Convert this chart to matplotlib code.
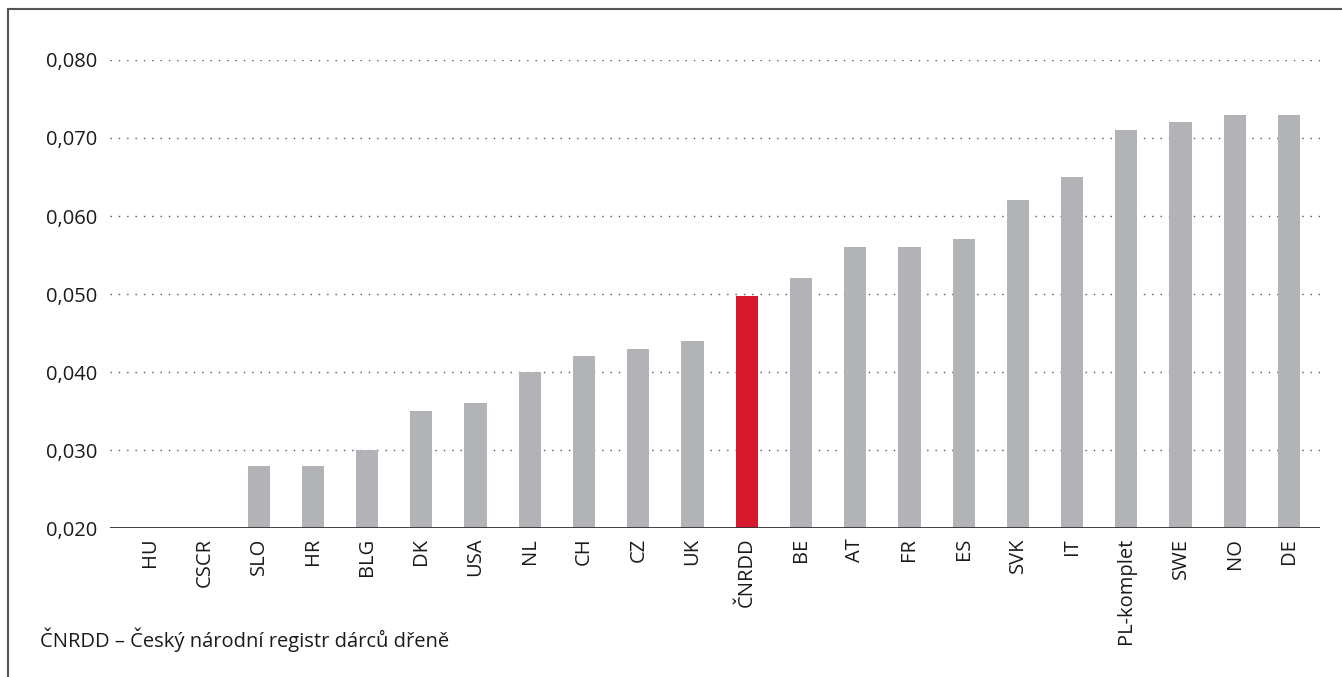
import matplotlib
matplotlib.use('Agg')
import numpy as np
import matplotlib.pyplot as plt
from matplotlib.lines import Line2D

plt.rcParams['font.family'] = ['Open Sans', 'DejaVu Sans']

# data
countries = ['HU', 'CSCR', 'SLO', 'HR', 'BLG', 'DK', 'USA', 'NL', 'CH', 'CZ', 'UK',
             'ČNRDD', 'BE', 'AT', 'FR', 'ES', 'SVK', 'IT', 'PL-komplet', 'SWE', 'NO', 'DE']
values = [0.020, 0.020, 0.028, 0.028, 0.030, 0.035, 0.036, 0.040, 0.042, 0.043, 0.044,
          0.0498, 0.052, 0.056, 0.056, 0.057, 0.062, 0.065, 0.071, 0.072, 0.073, 0.073]
highlight = 'ČNRDD'
yticks = [0.020, 0.030, 0.040, 0.050, 0.060, 0.070, 0.080]
footnote = 'ČNRDD – Český národní registr dárců dřeně'

fontsize = 14.5
gray = '#b2b3b7'
red = '#d7192d'

fig = plt.figure(figsize=(13.42, 6.77), dpi=100)
ax = fig.add_axes([0.082, 0.22, 0.9016, 0.6914])

x = np.arange(len(countries))
base = yticks[0]
colors = [red if c == highlight else gray for c in countries]
ax.bar(x, np.array(values) - base, bottom=base, width=0.41, color=colors, zorder=2)

# dotted grid
for yv in yticks[1:]:
    ax.axhline(yv, color='#555555', lw=1.0, ls=(0, (1, 5)), zorder=1)
ax.axhline(base, color='#333333', lw=1.3, zorder=3)

ax.set_xlim(-0.74, len(countries) - 1 + 0.57)
ax.set_ylim(base, yticks[-1])
ax.set_yticks(yticks)
ax.set_yticklabels([('%.3f' % v).replace('.', ',') for v in yticks], fontsize=fontsize)
ax.set_xticks(x)
ax.set_xticklabels(countries, rotation=90, fontsize=fontsize)
ax.tick_params(axis='both', length=0, colors='#1a1a1a')
ax.tick_params(axis='y', pad=9)
ax.tick_params(axis='x', pad=7)
for s in ax.spines.values():
    s.set_visible(False)

fig.text(40 / 1342, 1 - 640 / 677, footnote, fontsize=fontsize, va='center', ha='left', color='#1a1a1a')

# outer frame (top and left only, rest cut off)
fig.add_artist(Line2D([8 / 1342, 1], [1 - 9 / 677, 1 - 9 / 677], transform=fig.transFigure, color='#555555', lw=1.5))
fig.add_artist(Line2D([8 / 1342, 8 / 1342], [0, 1 - 9 / 677], transform=fig.transFigure, color='#555555', lw=1.5))

plt.savefig('out.png', dpi=100)
